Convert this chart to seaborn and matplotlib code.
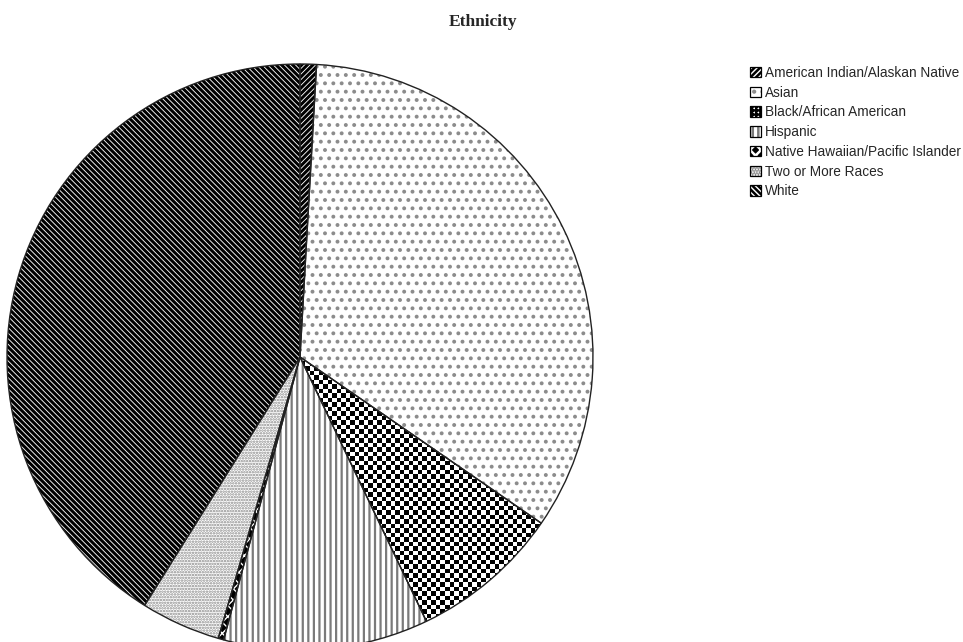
import numpy as np
import matplotlib
matplotlib.use("Agg")
import matplotlib.pyplot as plt
import seaborn as sns
from matplotlib.patches import Patch

# ---- data ----
categories = [
    "American Indian/Alaskan Native",
    "Asian",
    "Black/African American",
    "Hispanic",
    "Native Hawaiian/Pacific Islander",
    "Two or More Races",
    "White",
]
shares = [0.9, 33.7, 8.3, 11.3, 0.3, 4.4, 41.1]
title = "Ethnicity"

# ---- styles ----
hatches = ["//////", "..", "", "|||", "xxx", "......", "\\\\\\\\\\\\"]
hatch_colors = ["black", "#8c8c8c", "black", "#7a7a7a", "white", "#8a8a8a", "black"]
face_colors = ["white", "white", "white", "white", "black", "white", "white"]
hatch_lws = [2.2, 1.6, 1.0, 1.6, 1.0, 1.2, 2.2]

sns.set_theme(style="white")
plt.rcParams["font.family"] = ["Liberation Sans", "DejaVu Sans"]
plt.rcParams["hatch.linewidth"] = 1.8

W, H = 963, 642
fig = plt.figure(figsize=(W / 100, H / 100), dpi=100)
fig.patch.set_facecolor("white")

cx, cy, R = 300, 357, 293
ax = fig.add_axes([(cx - R) / W, (H - cy - R) / H, 2 * R / W, 2 * R / H])

wedges, _ = ax.pie(shares, startangle=90, counterclock=False, radius=1,
                   colors=face_colors,
                   wedgeprops=dict(linewidth=0))
for w, h, hc, lw in zip(wedges, hatches, hatch_colors, hatch_lws):
    w.set_hatch(h)
    w.set_edgecolor(hc)
    w.set_linewidth(0)
    if hasattr(w, "set_hatch_linewidth"):
        w.set_hatch_linewidth(lw)

# checkerboard texture for Black/African American slice
n_cells = 130
checker = (np.indices((n_cells, n_cells)).sum(axis=0) % 2).astype(float)
im = ax.imshow(checker, cmap="gray_r", extent=(-1, 1, -1, 1),
               interpolation="nearest", zorder=2, vmin=0, vmax=1)
im.set_clip_path(wedges[2])

outline, _ = ax.pie(shares, startangle=90, counterclock=False, radius=1,
                    colors=["none"] * len(shares),
                    wedgeprops=dict(linewidth=1.0, edgecolor="#222222"))
for o in outline:
    o.set_zorder(3)

ax.set_xlim(-1, 1)
ax.set_ylim(-1, 1)
ax.set_aspect("auto")
ax.axis("off")

fig.text(483 / W, 1 - 22 / H, title, ha="center", va="center",
         family=["Liberation Serif", "DejaVu Serif"], fontweight="bold",
         fontsize=12.5)

handles = []
leg_hatches = ["//////", "..", "++++", "|||", "xxx", "......", "\\\\\\\\\\\\"]
for i, cat in enumerate(categories):
    fc = face_colors[i]
    ec = hatch_colors[i]
    if i == 2:
        fc, ec = "white", "black"
    p1 = Patch(facecolor=fc, edgecolor=ec, hatch=leg_hatches[i], linewidth=0)
    p2 = Patch(facecolor="none", edgecolor="black", linewidth=0.9)
    handles.append((p1, p2))

fig.legend(handles, categories, loc="upper left",
           bbox_to_anchor=(750 / W, 1 - 66 / H), frameon=False,
           fontsize=9.8, handlelength=0.8, handleheight=0.8,
           handletextpad=0.3, labelspacing=0.42, borderpad=0, borderaxespad=0)

fig.savefig("out.png", dpi=100, facecolor="white")
